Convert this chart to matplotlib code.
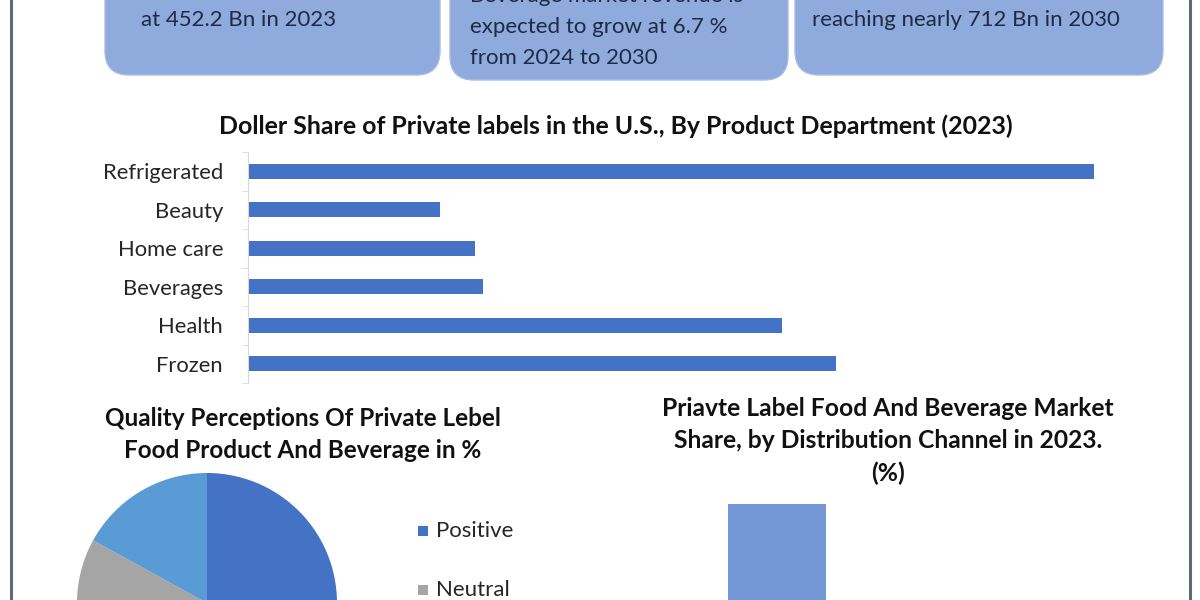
import numpy as np
import matplotlib.pyplot as plt
from matplotlib.patches import FancyBboxPatch

plt.rcParams['font.family'] = ['Lato', 'DejaVu Sans']

# data
departments = ['Refrigerated', 'Beauty', 'Home care', 'Beverages', 'Health', 'Frozen']
dollar_share = [22.0, 5.0, 5.9, 6.1, 13.9, 15.3]

perception_labels = ['Positive', 'Neutral', 'Negative']
perception_pct = [55, 28, 17]
perception_colors = ['#4472C4', '#A5A5A5', '#5B9BD5']

channels = ['Supermarkets & Hypermarkets']
channel_share = [45]

box_texts = [
    ['Market size was valued', 'at 452.2 Bn in 2023'],
    ['Beverage market revenue is', 'expected to grow at 6.7 %', 'from 2024 to 2030'],
    ['Market is growing steadily,', 'reaching nearly 712 Bn in 2030'],
]

W, H = 1200, 600
fig = plt.figure(figsize=(12, 6), dpi=100)
fig.patch.set_facecolor('white')

# background layer in pixel coords (y down)
bg = fig.add_axes([0, 0, 1, 1])
bg.set_xlim(0, W)
bg.set_ylim(H, 0)
bg.axis('off')

bg.plot([11, 11], [0, H], color='#5E6A74', lw=2.2)
bg.plot([1190, 1190], [0, H], color='#5E6A74', lw=2.2)

# top info boxes (x0, x1, bottom, text x, y of the second line)
boxes = [(105, 440, 75, 141, 20), (450, 788, 80, 470, 27), (795, 1163, 75, 812, 20)]
for (x0, x1, yb, tx, ty), lines in zip(boxes, box_texts):
    rect = FancyBboxPatch((x0, -80), x1 - x0, yb + 80,
                          boxstyle='round,pad=0,rounding_size=24',
                          fc='#8FAADC', ec='#A9BCE3', lw=1)
    bg.add_patch(rect)
    for i, line in enumerate(lines):
        bg.text(tx, ty + (i - 1) * 31, line, fontsize=16, color='#1F2A44',
                ha='left', va='center')

# bar chart: dollar share by product department
ax1 = fig.add_axes([248 / W, 1 - 383 / H, 902 / W, 231 / H])
ypos = np.arange(len(departments))
ax1.barh(ypos, dollar_share, height=0.4, color='#4472C4')
ax1.set_ylim(len(departments) - 0.5, -0.5)
ax1.set_xlim(0, 23.46)
ax1.set_yticks(ypos)
ax1.set_yticklabels(departments, fontsize=15.8, color='#262626')
ax1.set_yticks(np.arange(-0.5, len(departments)), minor=True)
ax1.tick_params(axis='y', which='major', length=0, pad=18)
ax1.tick_params(axis='y', which='minor', length=4, color='#D9D9D9')
ax1.set_xticks([])
for s in ['top', 'right', 'bottom']:
    ax1.spines[s].set_visible(False)
ax1.spines['left'].set_color('#D9D9D9')
bg.text(616, 126, 'Doller Share of Private labels in the U.S., By Product Department (2023)',
        fontsize=17.9, fontweight='bold', color='#111111', ha='center', va='center')

# pie chart: quality perceptions
r = 130
ax2 = fig.add_axes([(207 - r) / W, 1 - (603 + r) / H, 2 * r / W, 2 * r / H])
ax2.pie(perception_pct, colors=perception_colors, startangle=90, counterclock=False,
        radius=1, wedgeprops=dict(lw=0))
ax2.set_xlim(-1, 1)
ax2.set_ylim(-1, 1)
ax2.axis('off')
bg.text(303, 418, 'Quality Perceptions Of Private Lebel', fontsize=17.5, fontweight='bold',
        color='#111111', ha='center', va='center')
bg.text(303, 450, 'Food Product And Beverage in %', fontsize=17.5, fontweight='bold',
        color='#111111', ha='center', va='center')
for i, (lab, col) in enumerate(zip(perception_labels, perception_colors)):
    yy = 531 + i * 59
    bg.add_patch(plt.Rectangle((418, yy - 5), 10, 10, color=col, lw=0))
    bg.text(436, yy, lab, fontsize=16, color='#262626', ha='left', va='center')

# bar chart: distribution channel
ax3 = fig.add_axes([650 / W, 1 - 720 / H, 480 / W, 240 / H])
ax3.bar(np.arange(len(channels)), channel_share, width=0.82, color='#7597D6')
ax3.set_xlim(-1.06, 2.94)
ax3.set_ylim(0, 50)
ax3.axis('off')
for i, line in enumerate(['Priavte Label Food And Beverage Market',
                          'Share, by Distribution Channel in 2023.', '(%)']):
    bg.text(888, 408 + i * 32.5, line, fontsize=17.7, fontweight='bold',
            color='#111111', ha='center', va='center')

fig.savefig('out.png', dpi=100, facecolor='white')
